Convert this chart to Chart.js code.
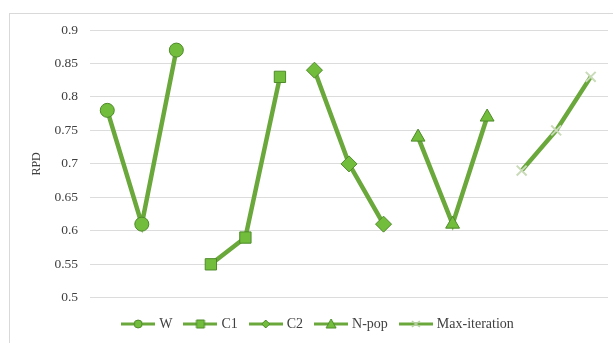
<!DOCTYPE html>
<html><head><meta charset="utf-8">
<script src="https://cdn.jsdelivr.net/npm/chart.js@4"></script>
<style>html,body{margin:0;padding:0;background:#fff;}#wrap{width:613px;height:343px;position:relative;}</style>
</head><body><div id="wrap"><canvas id="c" width="613" height="343"></canvas></div>
<script>
const categories = ['', '', '', '', '', '', '', '', '', '', '', '', '', '', ''];
const seriesNames = ['W', 'C1', 'C2', 'N-pop', 'Max-iteration'];
const W = [0.78, 0.61, 0.87];
const C1 = [0.55, 0.59, 0.83];
const C2 = [0.84, 0.70, 0.61];
const Npop = [0.74, 0.61, 0.77];
const MaxIter = [0.69, 0.75, 0.83];
const yTicks = [0.5, 0.55, 0.6, 0.65, 0.7, 0.75, 0.8, 0.85, 0.9];

const allSeries = [W, C1, C2, Npop, MaxIter];
const styles = ['circle', 'rect', 'rectRot', 'triangle', 'crossRot'];
const radii = [7, 8, 8, 8, 7];
const lineColor = '#6aa83c';
const fillColor = '#72bd3c';
const edgeColor = '#4e8a2a';

function legendIcon(i) {
  const cv = document.createElement('canvas');
  cv.width = 34; cv.height = 12;
  const g = cv.getContext('2d');
  g.strokeStyle = lineColor; g.lineWidth = 3;
  g.beginPath(); g.moveTo(0, 6); g.lineTo(34, 6); g.stroke();
  g.fillStyle = fillColor; g.strokeStyle = edgeColor; g.lineWidth = 1;
  const cx = 17, cy = 6;
  g.beginPath();
  if (i === 0) { g.arc(cx, cy, 4, 0, Math.PI * 2); }
  else if (i === 1) { g.rect(cx - 4, cy - 4, 8, 8); }
  else if (i === 2) { g.moveTo(cx, cy - 4); g.lineTo(cx + 4, cy); g.lineTo(cx, cy + 4); g.lineTo(cx - 4, cy); g.closePath(); }
  else if (i === 3) { g.moveTo(cx, cy - 5); g.lineTo(cx + 5, cy + 4); g.lineTo(cx - 5, cy + 4); g.closePath(); }
  if (i < 4) { g.fill(); g.stroke(); }
  else { g.strokeStyle = '#b5cfa0'; g.lineWidth = 1.5; g.beginPath(); g.moveTo(cx - 4, cy - 3); g.lineTo(cx + 4, cy + 3); g.moveTo(cx + 4, cy - 3); g.lineTo(cx - 4, cy + 3); g.stroke(); }
  return cv;
}
const icons = seriesNames.map((n, i) => legendIcon(i));

const datasets = allSeries.map((vals, i) => {
  const data = categories.map(() => null);
  vals.forEach((v, j) => { data[i * 3 + j] = v; });
  return {
    label: seriesNames[i],
    data: data,
    borderColor: lineColor,
    backgroundColor: fillColor,
    borderWidth: 4.5,
    pointStyle: styles[i],
    pointRadius: radii[i],
    pointHoverRadius: radii[i],
    pointBackgroundColor: fillColor,
    pointBorderColor: i === 4 ? '#c9dbb8' : edgeColor,
    pointBorderWidth: i === 4 ? 2 : 1,
    spanGaps: false,
    tension: 0
  };
});

const frame = {
  id: 'frame',
  beforeDraw(chart) {
    const ctx = chart.ctx;
    ctx.save();
    ctx.fillStyle = '#fff';
    ctx.fillRect(0, 0, chart.width, chart.height);
    ctx.strokeStyle = '#d9d9d9';
    ctx.lineWidth = 1;
    ctx.strokeRect(9.5, 13.5, 640, 400);
    ctx.restore();
  }
};

new Chart(document.getElementById('c'), {
  type: 'line',
  data: { labels: categories, datasets: datasets },
  plugins: [frame],
  options: {
    responsive: false,
    animation: false,
    layout: { autoPadding: false, padding: { top: 30, left: 30, right: 5, bottom: 2 } },
    plugins: {
      tooltip: { enabled: false },
      legend: {
        position: 'bottom',
        title: { display: true, text: '', font: { size: 1 }, padding: { top: 4, bottom: 0 } },
        labels: {
          usePointStyle: true,
          pointStyleWidth: 28,
          padding: 14,
          color: '#404040',
          font: { family: 'Liberation Serif', size: 14 },
          generateLabels: (chart) => seriesNames.map((n, i) => ({
            text: n, pointStyle: icons[i], fillStyle: fillColor, strokeStyle: lineColor,
            lineWidth: 0, hidden: false, datasetIndex: i, fontColor: '#404040'
          }))
        }
      }
    },
    scales: {
      x: {
        offset: true,
        grid: { display: false, drawTicks: false },
        border: { display: false },
        ticks: { display: false }
      },
      y: {
        min: 0.5, max: 0.9,
        afterBuildTicks: (s) => { s.ticks = yTicks.map(v => ({ value: v })); },
        afterFit: (s) => { s.width = 60; },
        grid: { color: '#dcdcdc', lineWidth: 1, drawTicks: false },
        border: { display: false },
        ticks: {
          padding: 12,
          color: '#404040',
          font: { family: 'Liberation Serif', size: 13.5 },
          callback: (v) => String(Math.round(v * 100) / 100)
        },
        title: {
          display: true, text: 'RPD', color: '#404040',
          font: { family: 'Liberation Serif', size: 12 }, padding: { top: 0, bottom: 0 }
        }
      }
    }
  }
});
</script></body></html>
